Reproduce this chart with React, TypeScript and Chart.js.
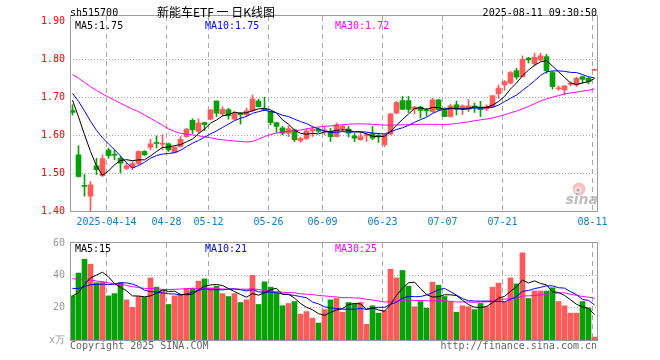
import React, { useEffect, useRef } from "react";
import { Chart, registerables } from "chart.js";

Chart.register(...registerables);

// ---------- texts ----------
const symbol = "sh515700";
const title = "新能车ETF 一 日K线图";
const timestamp = "2025-08-11 09:30:50";
const copyright = "Copyright 2025 SINA.COM";
const siteUrl = "http://finance.sina.com.cn";
const volumeUnit = "x万";

// ---------- axes ----------
const tickLabels = ["2025-04-14", "04-28", "05-12", "05-26", "06-09", "06-23", "07-07", "07-21", "08-11"];
const tickIndex = [6, 16, 23, 33, 42, 52, 62, 72, 87];
const priceTicks = [1.4, 1.5, 1.6, 1.7, 1.8, 1.9];
const priceGrid = [1.5, 1.6, 1.7, 1.8];
const volumeTicks = [0, 20, 40, 60];
const volumeGrid = [20, 40];

// ---------- daily data (2025-04-03 .. 2025-08-11) ----------
const opens = [
  1.665, 1.548, 1.466, 1.439, 1.519, 1.493, 1.561, 1.549, 1.539, 1.512,
  1.515, 1.525, 1.557, 1.568, 1.58, 1.576, 1.577, 1.554, 1.57, 1.596,
  1.639, 1.61, 1.633, 1.642, 1.69, 1.656, 1.667, 1.642, 1.658, 1.654,
  1.664, 1.69, 1.668, 1.662, 1.633, 1.619, 1.605, 1.614, 1.586, 1.591,
  1.611, 1.616, 1.61, 1.61, 1.596, 1.617, 1.616, 1.598, 1.588, 1.598,
  1.604, 1.599, 1.575, 1.603, 1.658, 1.691, 1.691, 1.668, 1.674, 1.665,
  1.662, 1.693, 1.665, 1.649, 1.68, 1.671, 1.668, 1.675, 1.674, 1.669,
  1.674, 1.709, 1.732, 1.737, 1.77, 1.754, 1.803, 1.788, 1.798, 1.807,
  1.765, 1.722, 1.719, 1.734, 1.732, 1.754, 1.75, 1.771,
];
const highs = [
  1.68, 1.572, 1.496, 1.478, 1.539, 1.548, 1.566, 1.561, 1.544, 1.526,
  1.531, 1.559, 1.559, 1.589, 1.598, 1.601, 1.579, 1.57, 1.596, 1.618,
  1.643, 1.643, 1.634, 1.667, 1.69, 1.675, 1.671, 1.662, 1.66, 1.671,
  1.706, 1.695, 1.7, 1.662, 1.634, 1.623, 1.625, 1.616, 1.595, 1.616,
  1.623, 1.619, 1.623, 1.618, 1.632, 1.627, 1.623, 1.604, 1.607, 1.605,
  1.623, 1.605, 1.604, 1.658, 1.689, 1.702, 1.702, 1.676, 1.676, 1.671,
  1.697, 1.694, 1.672, 1.682, 1.69, 1.68, 1.693, 1.685, 1.689, 1.68,
  1.704, 1.732, 1.744, 1.768, 1.776, 1.809, 1.805, 1.816, 1.816, 1.813,
  1.768, 1.73, 1.73, 1.741, 1.753, 1.756, 1.752, 1.774,
];
const lows = [
  1.653, 1.489, 1.439, 1.399, 1.496, 1.491, 1.539, 1.535, 1.5, 1.509,
  1.509, 1.522, 1.546, 1.561, 1.566, 1.561, 1.557, 1.553, 1.568, 1.594,
  1.604, 1.605, 1.612, 1.64, 1.649, 1.651, 1.642, 1.64, 1.629, 1.649,
  1.662, 1.674, 1.665, 1.627, 1.607, 1.601, 1.596, 1.583, 1.581, 1.588,
  1.596, 1.607, 1.601, 1.583, 1.595, 1.61, 1.595, 1.583, 1.586, 1.583,
  1.588, 1.581, 1.57, 1.601, 1.656, 1.667, 1.66, 1.656, 1.645, 1.65,
  1.66, 1.665, 1.649, 1.647, 1.653, 1.654, 1.662, 1.66, 1.649, 1.664,
  1.672, 1.697, 1.718, 1.735, 1.747, 1.753, 1.79, 1.782, 1.796, 1.763,
  1.721, 1.718, 1.706, 1.73, 1.728, 1.737, 1.735, 1.77,
];
const closes = [
  1.66, 1.491, 1.465, 1.469, 1.509, 1.538, 1.546, 1.547, 1.526, 1.519,
  1.525, 1.557, 1.548, 1.577, 1.578, 1.578, 1.561, 1.568, 1.589, 1.616,
  1.614, 1.632, 1.628, 1.667, 1.658, 1.668, 1.651, 1.658, 1.654, 1.664,
  1.695, 1.675, 1.666, 1.633, 1.623, 1.605, 1.617, 1.588, 1.591, 1.611,
  1.616, 1.61, 1.614, 1.596, 1.627, 1.623, 1.605, 1.592, 1.596, 1.601,
  1.592, 1.597, 1.6, 1.656, 1.686, 1.668, 1.668, 1.674, 1.665, 1.664,
  1.693, 1.667, 1.649, 1.677, 1.668, 1.677, 1.677, 1.674, 1.667, 1.674,
  1.704, 1.724, 1.741, 1.765, 1.753, 1.8, 1.798, 1.805, 1.809, 1.77,
  1.728, 1.724, 1.73, 1.736, 1.75, 1.747, 1.741, 1.773,
];
const volumes = [
  27.3, 41.4, 49.9, 46.9, 35.4, 36.0, 27.3, 28.7, 35.4, 24.8,
  20.2, 26.9, 26.3, 38.4, 32.7, 30.7, 22.0, 27.3, 28.3, 31.9,
  31.9, 36.4, 37.8, 32.3, 33.3, 28.7, 26.9, 28.7, 23.2, 24.8,
  40.0, 22.0, 36.0, 32.7, 29.3, 21.2, 22.6, 23.8, 16.0, 17.6,
  13.5, 10.5, 18.8, 24.8, 25.7, 17.2, 23.2, 22.2, 23.2, 9.7,
  21.2, 16.6, 18.2, 43.8, 38.4, 43.0, 33.3, 20.6, 23.8, 19.6,
  35.8, 33.9, 26.9, 23.6, 17.2, 21.2, 20.6, 18.8, 22.6, 20.6,
  32.7, 35.2, 23.6, 38.4, 34.7, 53.9, 25.7, 30.3, 30.3, 30.3,
  32.3, 23.8, 21.2, 16.6, 16.6, 23.8, 19.8, 1.8,
];
// sessions before the visible window (only feed the moving averages)
const priorCloses = [
  1.79, 1.8, 1.81, 1.8, 1.81, 1.808, 1.78, 1.77, 1.76, 1.75,
  1.754, 1.82, 1.84, 1.85, 1.846, 1.846, 1.78, 1.73, 1.69, 1.666,
  1.7, 1.72, 1.74, 1.75, 1.73, 1.71, 1.7, 1.69, 1.7,
];
const priorVolumes = [
  58, 55, 52, 54, 50.6, 48, 46, 45, 44, 43.4,
  44, 42, 40, 41, 39, 25, 22, 24, 26, 22,
  42, 38, 35, 34, 33.5, 31.4, 24.9, 26.4, 26.5,
];

// ---------- style ----------
const MONO = '"DejaVu Sans Mono", "Liberation Mono", monospace';
const CJK = '"Noto Sans CJK SC", "Noto Sans", sans-serif';
const UP = "#ff5a5a";
const DOWN = "#08a008";
const MA_COLORS = ["#000000", "#0000ff", "#ff00ff"];
const MA_PERIODS = [5, 10, 30];
const GRID = "#a8a8a8";
const FRAME = "#9a9a9a";
const AXIS_BLUE = "#0a7fd8";
const PRICE_LABEL = "#ff0000";
const VOL_LABEL = "#999999";
const X_MIN = -2.5 / 6;
const X_MAX = X_MIN + 527 / 6;
const GRID_SHIFT = -1 / 3;
const PRICE_MIN = 1.4;
const PRICE_MAX = 1.914;
const VOL_MAX = 60;

function movingAverage(values: number[], prior: number[], n: number): number[] {
  const all = prior.concat(values);
  return values.map((_, i) => {
    const end = prior.length + i;
    let s = 0;
    for (let k = end - n + 1; k <= end; k++) s += all[k];
    return s / n;
  });
}

function gridAndFrame(hLines: number[], drawFrameTop = true) {
  return {
    id: "gridAndFrame",
    beforeDatasetsDraw(chart: any) {
      const { ctx, chartArea, scales } = chart;
      const { left, right, top, bottom } = chartArea;
      ctx.save();
      ctx.lineWidth = 1;
      ctx.strokeStyle = GRID;
      ctx.setLineDash([1, 2]);
      hLines.forEach((v) => {
        const py = Math.floor(scales.y.getPixelForValue(v)) + 0.5;
        ctx.beginPath();
        ctx.moveTo(left, py);
        ctx.lineTo(right, py);
        ctx.stroke();
      });
      ctx.setLineDash([5, 4]);
      tickIndex.forEach((i) => {
        const px = Math.floor(scales.x.getPixelForValue(i + GRID_SHIFT)) + 0.5;
        ctx.beginPath();
        ctx.moveTo(px, top);
        ctx.lineTo(px, bottom);
        ctx.stroke();
      });
      ctx.restore();
    },
    afterDatasetsDraw(chart: any) {
      const { ctx, chartArea } = chart;
      const { left, right, top, bottom } = chartArea;
      ctx.save();
      ctx.strokeStyle = FRAME;
      ctx.lineWidth = 1;
      ctx.setLineDash([]);
      ctx.strokeRect(left + 0.5, top - 0.5, right - left, bottom - top + 1);
      ctx.restore();
    },
  };
}

function maLabels(texts: string[], yOffset: number) {
  return {
    id: "maLabels",
    afterDraw(chart: any) {
      const { ctx, chartArea } = chart;
      ctx.save();
      ctx.font = `10px ${MONO}`;
      ctx.textBaseline = "middle";
      ctx.textAlign = "left";
      texts.forEach((t, k) => {
        ctx.fillStyle = MA_COLORS[k];
        ctx.fillText(t, chartArea.left + 5 + 130 * k, chartArea.top + yOffset);
      });
      ctx.restore();
    },
  };
}

export default function App() {
  const priceRef = useRef<HTMLCanvasElement>(null);
  const volRef = useRef<HTMLCanvasElement>(null);

  useEffect(() => {
    const colors = closes.map((c, i) => (c >= opens[i] ? UP : DOWN));
    const priceMAs = MA_PERIODS.map((p) => movingAverage(closes, priorCloses, p));
    const volMAs = MA_PERIODS.map((p) => movingAverage(volumes, priorVolumes, p));
    const last = closes.length - 1;
    const priceMATexts = MA_PERIODS.map((p, k) => `MA${p}:${priceMAs[k][last].toFixed(2)}`);
    const volMATexts = MA_PERIODS.map((p, k) => `MA${p}:${Math.floor(volMAs[k][last])}`);

    const lineSets = (mas: number[][]) =>
      mas.map((m, k) => ({
        type: "line" as const,
        data: m.map((v, i) => ({ x: i, y: v })),
        borderColor: MA_COLORS[k],
        borderWidth: 1,
        pointRadius: 0,
        tension: 0,
        fill: false,
        order: k,
      }));

    const xBase = {
      type: "linear" as const,
      min: X_MIN,
      max: X_MAX,
      offset: false,
      grid: { display: false, drawTicks: false },
      border: { display: false },
    };

    const header = {
      id: "header",
      afterDraw(chart: any) {
        const { ctx, chartArea } = chart;
        ctx.save();
        ctx.fillStyle = "#000";
        ctx.textBaseline = "middle";
        ctx.font = `10px ${MONO}`;
        ctx.textAlign = "left";
        ctx.fillText(symbol, chartArea.left, 13);
        ctx.textAlign = "right";
        ctx.fillText(timestamp, chartArea.right, 13);
        ctx.font = `12px ${CJK}`;
        ctx.textAlign = "center";
        ctx.fillText(title, 216, 12.5);
        ctx.restore();
      },
      beforeDatasetsDraw(chart: any) {
        const { ctx, chartArea } = chart;
        const cx = chartArea.right - 18;
        const cy = chartArea.bottom - 22;
        ctx.save();
        ctx.globalAlpha = 0.55;
        ctx.fillStyle = "#f08a8a";
        ctx.beginPath();
        ctx.arc(cx, cy, 6.5, 0, Math.PI * 2);
        ctx.fill();
        ctx.fillStyle = "#ffffff";
        ctx.beginPath();
        ctx.arc(cx - 1, cy + 1, 3.5, 0, Math.PI * 2);
        ctx.fill();
        ctx.fillStyle = "#777";
        ctx.beginPath();
        ctx.arc(cx - 1, cy + 1, 1.6, 0, Math.PI * 2);
        ctx.fill();
        ctx.globalAlpha = 0.75;
        ctx.fillStyle = "#a8a8a8";
        ctx.font = 'italic bold 14px "DejaVu Sans", sans-serif';
        ctx.textAlign = "right";
        ctx.textBaseline = "alphabetic";
        ctx.fillText("sina", chartArea.right + 1, chartArea.bottom - 7);
        ctx.restore();
      },
    };

    const priceChart = new Chart(priceRef.current as HTMLCanvasElement, {
      type: "bar",
      data: {
        datasets: [
          ...lineSets(priceMAs),
          {
            type: "bar",
            data: closes.map((c, i) => ({ x: i, y: [opens[i], c] })),
            backgroundColor: colors,
            barThickness: 5,
            minBarLength: 1,
            grouped: false,
            order: 5,
          } as any,
          {
            type: "bar",
            data: closes.map((_, i) => ({ x: i, y: [lows[i], highs[i]] })),
            backgroundColor: colors,
            barThickness: 1,
            minBarLength: 1,
            grouped: false,
            order: 6,
          } as any,
        ],
      },
      options: {
        responsive: false,
        animation: false,
        devicePixelRatio: 1,
        events: [],
        layout: { padding: { left: 0, right: 63, top: 16, bottom: 0 } },
        plugins: { legend: { display: false }, tooltip: { enabled: false } },
        scales: {
          x: {
            ...xBase,
            afterBuildTicks: (s: any) => {
              s.ticks = tickIndex.map((i) => ({ value: i + GRID_SHIFT }));
            },
            afterFit: (s: any) => {
              s.height = 21;
            },
            ticks: {
              autoSkip: false,
              maxRotation: 0,
              minRotation: 0,
              padding: 5,
              color: AXIS_BLUE,
              font: { family: MONO, size: 10 },
              callback: (_v: any, k: number) => tickLabels[k],
            },
          },
          y: {
            type: "linear",
            min: PRICE_MIN,
            max: PRICE_MAX,
            grid: { display: false, drawTicks: false },
            border: { display: false },
            afterBuildTicks: (s: any) => {
              s.ticks = priceTicks.map((v) => ({ value: v }));
            },
            afterFit: (s: any) => {
              s.width = 70;
            },
            ticks: {
              padding: 5,
              color: PRICE_LABEL,
              font: { family: MONO, size: 10 },
              callback: (v: any) => Number(v).toFixed(2),
            },
          },
        },
      } as any,
      plugins: [gridAndFrame(priceGrid), maLabels(priceMATexts, 10), header],
    });

    const footer = {
      id: "footer",
      afterDraw(chart: any) {
        const { ctx, chartArea } = chart;
        ctx.save();
        ctx.fillStyle = "#666";
        ctx.font = `10px ${MONO}`;
        ctx.textBaseline = "middle";
        ctx.textAlign = "left";
        ctx.fillText(copyright, chartArea.left, chartArea.bottom + 6);
        ctx.textAlign = "right";
        ctx.fillText(siteUrl, chartArea.right, chartArea.bottom + 6);
        ctx.restore();
      },
    };

    const volChart = new Chart(volRef.current as HTMLCanvasElement, {
      type: "bar",
      data: {
        datasets: [
          ...lineSets(volMAs),
          {
            type: "bar",
            data: volumes.map((v, i) => ({ x: i, y: v })),
            backgroundColor: colors,
            barThickness: 5,
            grouped: false,
            order: 5,
          } as any,
        ],
      },
      options: {
        responsive: false,
        animation: false,
        devicePixelRatio: 1,
        events: [],
        layout: { padding: { left: 0, right: 63, top: 8, bottom: 20 } },
        plugins: { legend: { display: false }, tooltip: { enabled: false } },
        scales: {
          x: { ...xBase, display: false },
          y: {
            type: "linear",
            min: 0,
            max: VOL_MAX,
            grid: { display: false, drawTicks: false },
            border: { display: false },
            afterBuildTicks: (s: any) => {
              s.ticks = volumeTicks.map((v) => ({ value: v }));
            },
            afterFit: (s: any) => {
              s.width = 70;
            },
            ticks: {
              padding: 5,
              color: VOL_LABEL,
              font: { family: MONO, size: 10 },
              callback: (v: any) => (Number(v) === 0 ? volumeUnit : String(v)),
            },
          },
        },
      } as any,
      plugins: [gridAndFrame(volumeGrid), maLabels(volMATexts, 6), footer],
    });

    return () => {
      priceChart.destroy();
      volChart.destroy();
    };
  }, []);

  return (
    <div style={{ position: "relative", width: 660, height: 360, background: "#fff" }}>
      <style>{"body{margin:0;}"}</style>
      <canvas
        ref={priceRef}
        width={660}
        height={232}
        style={{ position: "absolute", left: 0, top: 0, width: 660, height: 232 }}
      />
      <canvas
        ref={volRef}
        width={660}
        height={128}
        style={{ position: "absolute", left: 0, top: 232, width: 660, height: 128 }}
      />
    </div>
  );
}
